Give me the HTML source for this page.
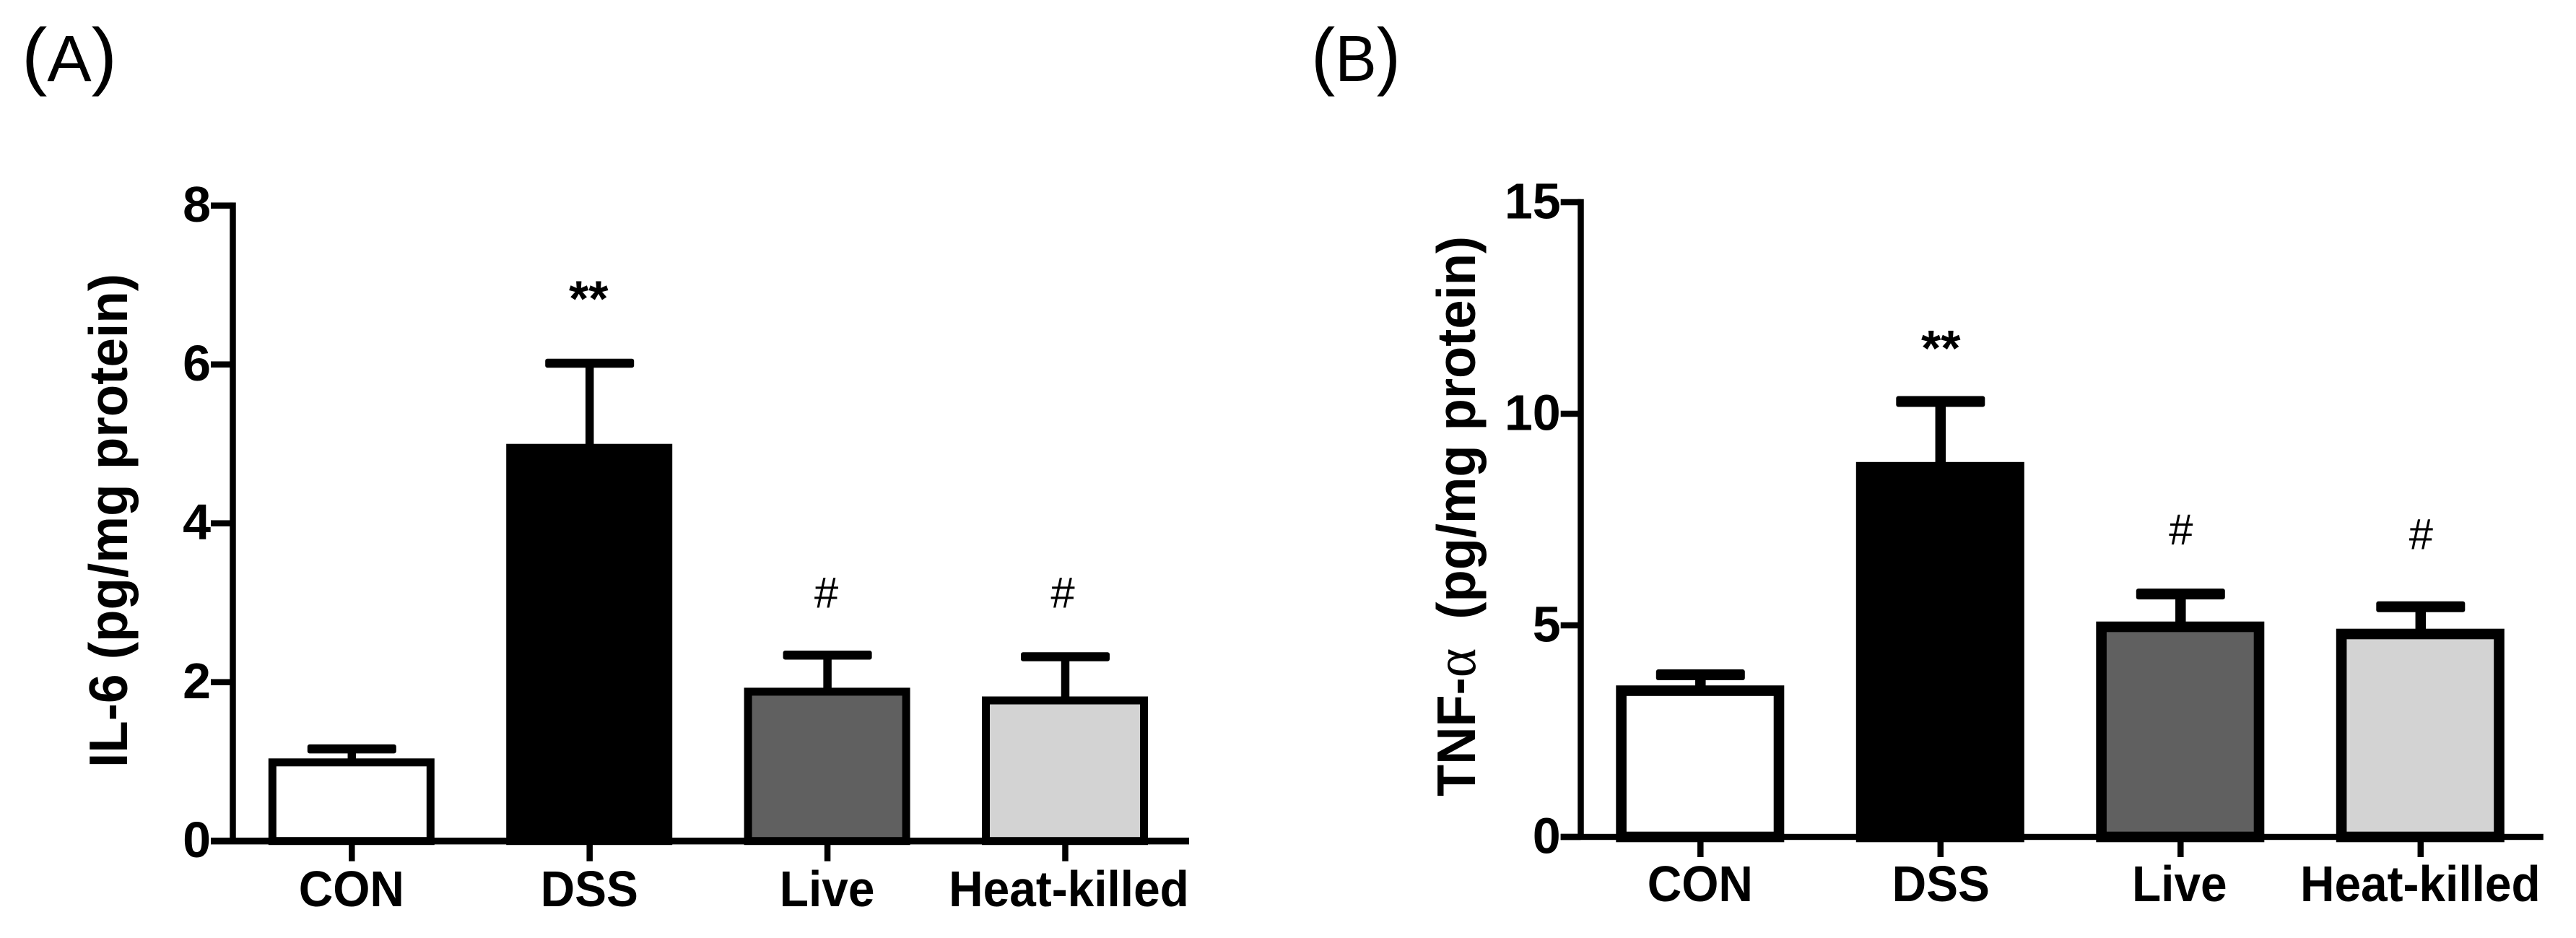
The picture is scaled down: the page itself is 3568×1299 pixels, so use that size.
<!DOCTYPE html>
<html lang="en">
<head>
<meta charset="utf-8">
<title>IL-6 and TNF-α bar charts</title>
<style>
html,body{margin:0;padding:0;background:#fff}
svg{display:block}
text{font-family:"Liberation Sans",Arial,sans-serif;fill:#000}
</style>
</head>
<body>
<svg id="figure" xmlns="http://www.w3.org/2000/svg" width="3568" height="1299" viewBox="0 0 3568 1299">
  <rect width="3568" height="1299" fill="#fff"/>
  <text x="30" y="112" font-size="90" textLength="132" lengthAdjust="spacingAndGlyphs"><tspan font-size="104">(</tspan>A<tspan font-size="104">)</tspan></text>
  <text x="1816" y="112" font-size="90" textLength="124" lengthAdjust="spacingAndGlyphs"><tspan font-size="104">(</tspan>B<tspan font-size="104">)</tspan></text>
  <g id="chart-a"></g>
  <g id="chart-b"></g>
  <text transform="translate(176,1063) rotate(-90)" font-size="75" font-weight="700" textLength="684" lengthAdjust="spacingAndGlyphs">IL-6 (pg/mg protein)</text>
  <text transform="translate(2043,1103) rotate(-90)" font-size="75" font-weight="700" textLength="776" lengthAdjust="spacingAndGlyphs" xml:space="preserve">TNF-<tspan font-family="'Liberation Serif',serif" font-weight="400" font-size="80">α</tspan>  (pg/mg protein)</text>
</svg>
<script>
const categories = ['CON', 'DSS', 'Live', 'Heat-killed'];
const barFills = ['#ffffff', '#000000', '#606060', '#d3d3d3'];
const il6Values = [1.04, 5.0, 1.93, 1.82];
const il6Upper = [1.16, 6.015, 2.34, 2.32];
const il6Marks = ['', '**', '#', '#'];
const il6MarkLevels = [0, 6.61, 2.94, 2.94];
const il6Ticks = [0, 2, 4, 6, 8];
const tnfValues = [3.58, 8.86, 5.09, 4.92];
const tnfUpper = [3.83, 10.29, 5.74, 5.44];
const tnfMarks = ['', '**', '#', '#'];
const tnfMarkLevels = [0, 11.14, 6.91, 6.8];
const tnfTicks = [0, 5, 10, 15];

const NS = 'http://www.w3.org/2000/svg';
function make(tag, parent, attrs) {
  const el = document.createElementNS(NS, tag);
  for (const k in attrs) el.setAttribute(k, attrs[k]);
  parent.appendChild(el);
  return el;
}

function drawChart(root, layout, values, upper, marks, markLevels, ticks) {
  const y = v => layout.y0 - (v / ticks[ticks.length - 1]) * (layout.y0 - layout.yTop);
  const x = i => layout.x0 + i * layout.step;
  const sw = layout.stroke;

  categories.forEach((name, i) => {
    const cx = x(i);
    const stem = make('rect', root, { x: cx - layout.stemW / 2 + 0.5, y: y(upper[i]), width: layout.stemW, height: y(values[i]) - y(upper[i]) + 2, fill: '#000' });
    
    
    const cap = make('rect', root, { x: cx - 61.5 + 0.5, y: y(upper[i]) - layout.capH / 2, width: 123, height: layout.capH, rx: 3, fill: '#000' });
    
    
    const bar = make('rect', root, {
      x: cx - layout.barW / 2 + sw / 2, y: y(values[i]) + sw / 2,
      width: layout.barW - sw, height: layout.y0 - y(values[i]) - sw / 2,
      fill: barFills[i], stroke: '#000', 'stroke-width': sw
    });
    
    
    const tick = make('rect', root, { x: cx - 4.25 + 0.5, y: layout.y0, width: 8.5, height: 28, fill: '#000' });
    
    
    const label = make('text', root, {
      transform: 'translate(' + (cx + layout.labelShift[i]) + ',' + layout.labelY + ') scale(.94,1)',
      'font-size': 70, 'font-weight': 700, 'text-anchor': 'middle'
    });
    label.textContent = name;
    
    
    if (marks[i]) {
      const isStar = marks[i] === '**';
      const mark = make('text', root, {
        x: cx + layout.markShift[i], y: y(markLevels[i]),
        'font-size': isStar ? 70 : 60, 'font-weight': isStar ? 700 : 400, 'text-anchor': 'middle'
      });
      mark.textContent = marks[i];
      
      
    }
  });

  const top = y(ticks[ticks.length - 1]);
  const yAxis = make('rect', root, { x: layout.axisX - 4.25, y: top - 4.25, width: 8.5, height: layout.y0 - top + 4.25, fill: '#000' });
  
  
  const xAxis = make('rect', root, { x: layout.tickLeft, y: layout.y0 - layout.xAxisH / 2, width: layout.xEnd - layout.tickLeft, height: layout.xAxisH, fill: '#000' });
  
  

  ticks.forEach(t => {
    const tm = make('rect', root, { x: layout.tickLeft, y: y(t) - 4.25, width: layout.axisX - layout.tickLeft, height: 8.5, fill: '#000' });
    
    
    const tl = make('text', root, {
      x: layout.tickLeft, y: y(t) + 22.5,
      'font-size': 70, 'font-weight': 700, 'text-anchor': 'end'
    });
    tl.textContent = String(t);
    
    
  });
}

drawChart(document.getElementById('chart-a'),
  { axisX: 322.5, tickLeft: 292, xEnd: 1647, y0: 1164.7, yTop: 284.7, x0: 486.8, step: 329.4, barW: 230, stroke: 11,
    stemW: 11.5, capH: 12.5, xAxisH: 9.4, labelY: 1255, labelShift: [0, 0, 0, 5.5], markShift: [0, -1, -1, -3] },
  il6Values, il6Upper, il6Marks, il6MarkLevels, il6Ticks);
drawChart(document.getElementById('chart-b'),
  { axisX: 2189.5, tickLeft: 2161.7, xEnd: 3522.8, y0: 1159, yTop: 280, x0: 2354.8, step: 332.5, barW: 233, stroke: 14.6,
    stemW: 14.5, capH: 15, xAxisH: 8.4, labelY: 1248, labelShift: [0, 1, -1, 0], markShift: [0, 1, 1, 1] },
  tnfValues, tnfUpper, tnfMarks, tnfMarkLevels, tnfTicks);
</script>
</body>
</html>
